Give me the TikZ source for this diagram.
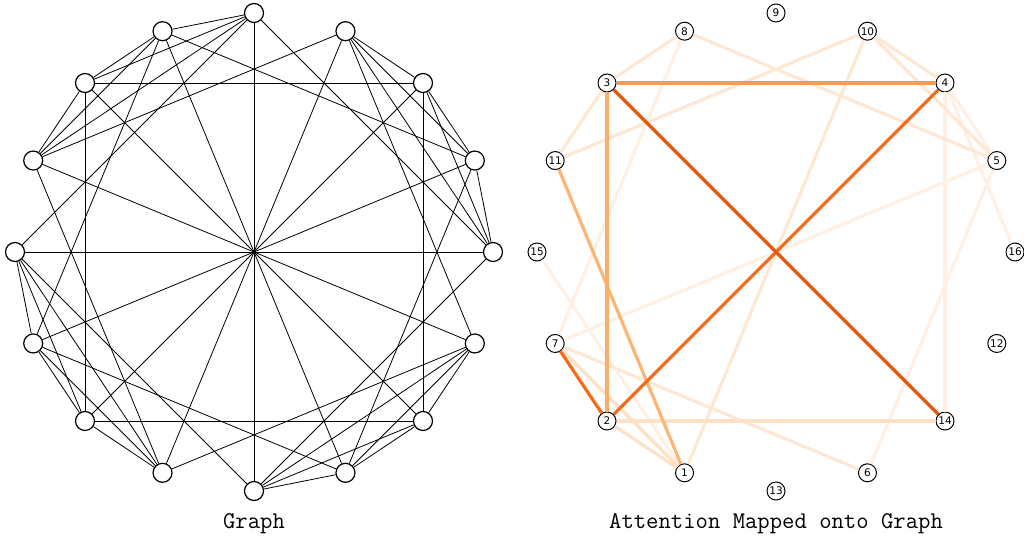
\documentclass[tikz,border=0pt]{standalone}
\usepackage{fontspec}
\newfontfamily\labelfont{DejaVu Sans}
\definecolor{attA}{HTML}{E35A0E}
\definecolor{attB}{HTML}{F26C1C}
\definecolor{attC}{HTML}{FD9A4F}
\definecolor{attD}{HTML}{FDAC6A}
\definecolor{attE}{HTML}{FDB576}
\definecolor{attF}{HTML}{FEE1C6}
\definecolor{attG}{HTML}{FEE8D4}
\definecolor{attH}{HTML}{FFF0E3}
\tikzset{
	vertex/.style={circle, draw, fill=white, line width=1.2pt, minimum size=19pt, inner sep=0pt},
	attvertex/.style={circle, draw, fill=white, line width=1pt, minimum size=18pt, inner sep=0pt, font=\labelfont\fontsize{10.5}{10.5}\selectfont},
	edge/.style={line width=0.8pt},
	attedge/.style={line width=3.2pt},
	caption/.style={font=\ttfamily\fontsize{24}{24}\selectfont}
}
\begin{document}
\begin{tikzpicture}[x=1pt,y=-1pt]
		\useasboundingbox (0,0) rectangle (1024,540);
		% left graph: vertices on a circle
		\begin{scope}[shift={(254,252)}]
			\foreach \k in {0,...,15}{
				\node[vertex] (g\k) at (-90+22.5*\k:239) {};
			}
		\end{scope}
		% columns: offset 4 and diameters
		\foreach \i in {0,...,15}{
			\pgfmathtruncatemacro{\j}{mod(\i+4,16)}
			\draw[edge] (g\i) -- (g\j);
		}
		\foreach \i in {0,...,7}{
			\pgfmathtruncatemacro{\j}{\i+8}
			\draw[edge] (g\i) -- (g\j);
		}
		% rows of four neighbours
		\foreach \r in {1,5,9,13}{
			\foreach \a/\b in {0/1,0/2,0/3,1/2,1/3,2/3}{
				\pgfmathtruncatemacro{\m}{mod(\r+\a,16)}
				\pgfmathtruncatemacro{\n}{mod(\r+\b,16)}
				\draw[edge] (g\m) -- (g\n);
			}
		}
		\node[caption] (gtitle) at (254,524) {Graph};
		
		% right graph: attention weights
		\begin{scope}[shift={(776,252)}]
			\foreach \lab [count=\k from 0] in {9,10,4,5,16,12,14,6,13,1,2,7,15,11,3,8}{
				\node[attvertex] (a\lab) at (-90+22.5*\k:239) {\lab};
			}
		\end{scope}
		\foreach \u/\v/\c in {4/14/attH, 8/7/attH, 5/7/attH, 5/6/attH, 15/1/attH, 4/5/attH, 4/16/attH,
			11/10/attG, 10/4/attG, 10/5/attG, 8/5/attG, 3/8/attG, 3/11/attG, 10/1/attG, 7/6/attG,
			2/14/attF, 7/1/attF, 2/1/attF,
			11/1/attE, 3/2/attD, 3/4/attC, 7/2/attB, 4/2/attB, 3/14/attA}{
			\draw[attedge, draw=\c] (a\u) -- (a\v);
		}
		\node[caption] (atitle) at (776,524) {Attention Mapped onto Graph};
		\end{tikzpicture}
\end{document}
